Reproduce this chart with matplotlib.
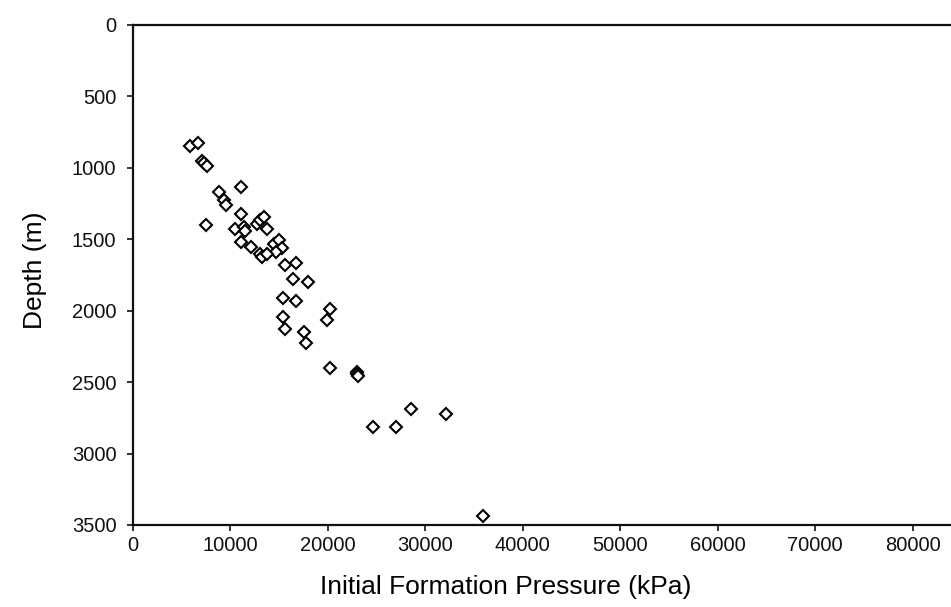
import matplotlib
matplotlib.use("Agg")
import matplotlib.pyplot as plt

# initial formation pressure (kPa) vs depth (m)
pressure = [5830, 6690, 7100, 7330, 7610, 11130, 8800, 9310, 9560, 11130,
            7470, 10510, 11360, 11540, 11130, 12120, 12740, 13080, 13420, 13760,
            14440, 15000, 15300, 14720, 13080, 13250, 13760, 15640, 16740, 16430,
            17970, 15410, 16740, 20260, 19920, 15410, 15640, 17520, 17760, 20190,
            23000, 23000, 23050, 28560, 32120, 24640, 26950, 35880]
depth = [845, 824, 950, 968, 987, 1136, 1171, 1225, 1260, 1325,
         1398, 1428, 1412, 1440, 1517, 1554, 1393, 1365, 1346, 1428,
         1533, 1505, 1559, 1591, 1603, 1622, 1605, 1682, 1668, 1780,
         1797, 1909, 1932, 1990, 2065, 2045, 2130, 2151, 2228, 2399,
         2431, 2443, 2454, 2688, 2725, 2814, 2814, 3437]

x_ticks = [0, 10000, 20000, 30000, 40000, 50000, 60000, 70000, 80000]
y_ticks = [0, 500, 1000, 1500, 2000, 2500, 3000, 3500]

plt.rcParams["font.family"] = ["Liberation Sans", "DejaVu Sans"]

fig = plt.figure(figsize=(9.51, 6.07), dpi=100)
ax = fig.add_axes([133 / 951, 82 / 607, 1 - 133 / 951, 500 / 607])

ax.plot(pressure, depth, linestyle="none", marker="D", markersize=6.3,
        markerfacecolor="white", markeredgecolor="black", markeredgewidth=1.5)

ax.set_xlim(0, 83950)
ax.set_ylim(3500, 0)
ax.set_xticks(x_ticks)
ax.set_yticks(y_ticks)

ax.spines["right"].set_visible(False)
for s in ["left", "top", "bottom"]:
    ax.spines[s].set_linewidth(1.6)
    ax.spines[s].set_color("#111111")
ax.tick_params(axis="both", direction="out", length=4, width=1.2,
               labelsize=14.5, colors="#111111")
ax.tick_params(axis="y", pad=8)
ax.tick_params(axis="x", pad=4)

ax.set_xlabel("Initial Formation Pressure (kPa)", fontsize=19)
ax.set_ylabel("Depth (m)", fontsize=19)
ax.xaxis.set_label_coords(0.456, -0.1)
ax.yaxis.set_label_coords(-0.105, 0.51)

fig.savefig("out.png", dpi=100)
